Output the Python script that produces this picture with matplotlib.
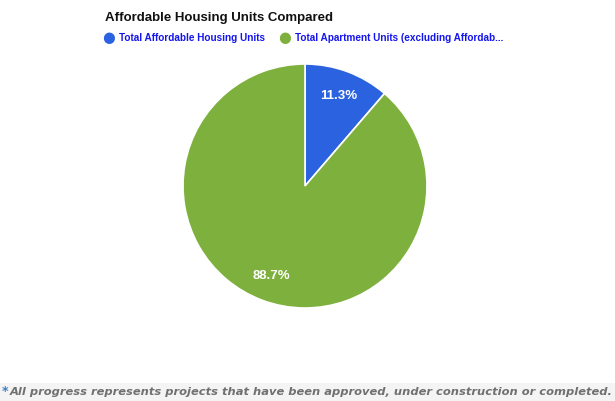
import matplotlib
matplotlib.use("Agg")
import matplotlib.pyplot as plt
from matplotlib.patches import Rectangle

labels = ["Total Affordable Housing Units", "Total Apartment Units (excluding Affordab..."]
shares = [11.3, 88.7]
colors = ["#2b62e0", "#7eb03e"]

W, H = 615, 401
fig = plt.figure(figsize=(W / 100, H / 100), dpi=100)

# pie axes: centre (305, 186) px, radius 122 px
cx, cy, r = 305, 186, 122
ax = fig.add_axes([(cx - r) / W, (H - cy - r) / H, 2 * r / W, 2 * r / H])
wedges, texts, autotexts = ax.pie(
    shares, colors=colors, startangle=90, counterclock=False,
    autopct="%.1f%%", pctdistance=0.79,
    wedgeprops=dict(edgecolor="white", linewidth=1.2),
    textprops=dict(color="white", fontsize=9.5, fontweight="bold",
                   family="Liberation Sans"))
ax.set_xlim(-1, 1)
ax.set_ylim(-1, 1)
ax.set_aspect("equal")
ax.axis("off")

# title
fig.text(105 / W, 1 - 18 / H, "Affordable Housing Units Compared",
         fontsize=9.5, fontweight="bold", family="Liberation Sans",
         color="#111111", va="center", ha="left")

# legend
legend_x = [109, 285]
for x, lab, col in zip(legend_x, labels, colors):
    fig.text(x / W, 1 - 37.5 / H, "\u25CF", color=col, fontsize=10.5,
             ha="center", va="center", family="DejaVu Sans")
    fig.text((x + 10) / W, 1 - 38 / H, lab, color="#1515ee", fontsize=7.2,
             fontweight="bold", family="Liberation Sans", ha="left", va="center")

# footnote band
fig.patches.append(Rectangle((0, 0), 1, 18 / H, transform=fig.transFigure,
                             facecolor="#f4f4f4", edgecolor="none"))
fig.text(2 / W, 9 / H, "*", color="#3d7fc0", fontsize=9, fontweight="bold",
         fontstyle="italic", family="DejaVu Sans", va="center", ha="left")
fig.text(10 / W, 9 / H,
         "All progress represents projects that have been approved, under construction or completed.",
         color="#707070", fontsize=8.25, fontweight="bold", fontstyle="italic",
         family="DejaVu Sans", va="center", ha="left")

fig.savefig("out.png", dpi=100)
